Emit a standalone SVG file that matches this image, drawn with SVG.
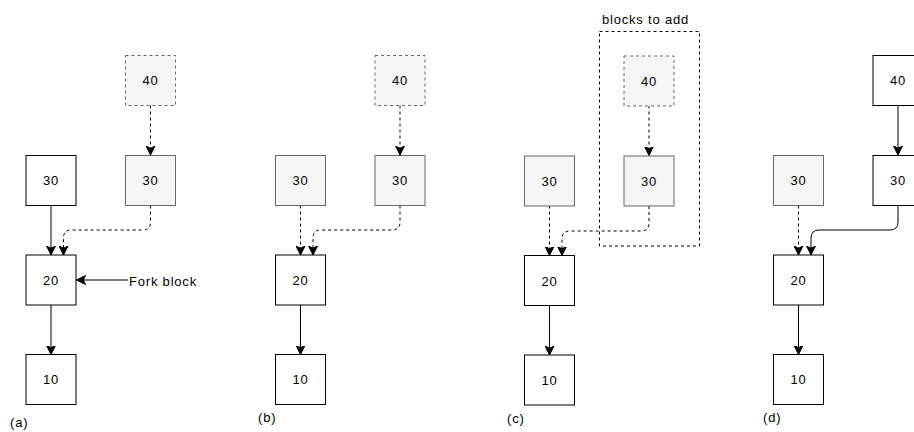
<svg xmlns="http://www.w3.org/2000/svg" width="914" height="432" viewBox="0 0 914 432">
<defs>
<style>
text{font-family:"Liberation Sans",Arial,Helvetica,sans-serif;font-size:13px;letter-spacing:0.8px;fill:#000}
.c{text-anchor:middle}
.blk{fill:#fff;stroke:#000;stroke-width:1}
.gry{fill:#f5f5f5;stroke:#666;stroke-width:1}
.gdash{fill:#f5f5f5;stroke:#666;stroke-width:1;stroke-dasharray:3 3}
.ln{fill:none;stroke:#000;stroke-width:1;marker-end:url(#arr)}
.dl{fill:none;stroke:#000;stroke-width:1;stroke-dasharray:3 3;marker-end:url(#arr)}
.box{fill:none;stroke:#000;stroke-width:1;stroke-dasharray:3 3}
</style>
<marker id="arr" markerUnits="userSpaceOnUse" viewBox="0 -5 10 10" refX="9" refY="0" markerWidth="10" markerHeight="10" orient="auto">
<path d="M0,-4.5 L9,0 L0,4.5 L2.2,0 Z" fill="#000" stroke="#000" stroke-width="1"/>
</marker>
</defs>
<rect width="914" height="432" fill="#fff"/>

<g id="connectors">
<!-- (a) -->
<path class="dl" d="M150.5,105.5 V155"/>
<path class="ln" d="M51,205.5 V255"/>
<path class="dl" d="M150.5,205.5 V222 Q150.5,230 142.5,230 H71.5 Q63.5,230 63.5,238 V255"/>
<path class="ln" d="M128,280 H76.5"/>
<path class="ln" d="M51,305 V354.5"/>
<!-- (b) -->
<path class="dl" d="M400,105.5 V155"/>
<path class="dl" d="M300.5,205.5 V255"/>
<path class="dl" d="M400,205.5 V222 Q400,230 392,230 H321 Q313,230 313,238 V255"/>
<path class="ln" d="M300.5,305 V354.5"/>
<!-- (c) -->
<path class="dl" d="M649,105.5 V155.5"/>
<path class="dl" d="M549.5,205.5 V255.5"/>
<path class="dl" d="M649,206 V223 Q649,231 641,231 H570 Q562,231 562,239 V255.5"/>
<path class="ln" d="M549.5,305.5 V355"/>
<!-- (d) -->
<path class="ln" d="M898,105.5 V155"/>
<path class="dl" d="M798.5,205.5 V255"/>
<path class="ln" d="M898,205.5 V222 Q898,230 890,230 H819 Q811,230 811,238 V255"/>
<path class="ln" d="M798.5,305 V354.5"/>
</g>

<!-- panel (a) -->
<g id="a-40"><rect class="gdash" x="125.5" y="55.5" width="50" height="50"/><text class="c" x="150.5" y="85">40</text></g>
<g id="a-30-left"><rect class="blk" x="26" y="155.5" width="50" height="50"/><text class="c" x="51" y="185">30</text></g>
<g id="a-30-right"><rect class="gry" x="125.5" y="155.5" width="50" height="50"/><text class="c" x="150.5" y="185">30</text></g>
<g id="a-20"><rect class="blk" x="26" y="255" width="50" height="50"/><text class="c" x="51" y="285">20</text></g>
<g id="a-10"><rect class="blk" x="26" y="354.5" width="50" height="50"/><text class="c" x="51" y="384">10</text></g>
<g id="a-fork"><text x="129" y="285.5">Fork block</text></g>
<g id="a-label"><text x="10" y="427">(a)</text></g>

<!-- panel (b) -->
<g id="b-40"><rect class="gdash" x="375" y="55.5" width="50" height="50"/><text class="c" x="400" y="85">40</text></g>
<g id="b-30-left"><rect class="gry" x="275.5" y="155.5" width="50" height="50"/><text class="c" x="300.5" y="185">30</text></g>
<g id="b-30-right"><rect class="gry" x="375" y="155.5" width="50" height="50"/><text class="c" x="400" y="185">30</text></g>
<g id="b-20"><rect class="blk" x="275.5" y="255" width="50" height="50"/><text class="c" x="300.5" y="285">20</text></g>
<g id="b-10"><rect class="blk" x="275.5" y="354.5" width="50" height="50"/><text class="c" x="300.5" y="384">10</text></g>
<g id="b-label"><text x="258" y="422">(b)</text></g>

<!-- panel (c) -->
<g id="c-group"><rect class="box" x="599.5" y="31.5" width="100" height="214.5"/><text x="602" y="23.5">blocks to add</text></g>
<g id="c-40"><rect class="gdash" x="624" y="56" width="50" height="50"/><text class="c" x="649" y="85.5">40</text></g>
<g id="c-30-left"><rect class="gry" x="524.5" y="156" width="50" height="50"/><text class="c" x="549.5" y="185.5">30</text></g>
<g id="c-30-right"><rect class="gry" x="624" y="156" width="50" height="50"/><text class="c" x="649" y="185.5">30</text></g>
<g id="c-20"><rect class="blk" x="524.5" y="255.5" width="50" height="50"/><text class="c" x="549.5" y="285.5">20</text></g>
<g id="c-10"><rect class="blk" x="524.5" y="355" width="50" height="50"/><text class="c" x="549.5" y="384.5">10</text></g>
<g id="c-label"><text x="507" y="423">(c)</text></g>

<!-- panel (d) -->
<g id="d-40"><rect class="blk" x="873" y="55.5" width="50" height="50"/><text class="c" x="898" y="85">40</text></g>
<g id="d-30-left"><rect class="gry" x="773.5" y="155.5" width="50" height="50"/><text class="c" x="798.5" y="185">30</text></g>
<g id="d-30-right"><rect class="blk" x="873" y="155.5" width="50" height="50"/><text class="c" x="898" y="185">30</text></g>
<g id="d-20"><rect class="blk" x="773.5" y="255" width="50" height="50"/><text class="c" x="798.5" y="285">20</text></g>
<g id="d-10"><rect class="blk" x="773.5" y="354.5" width="50" height="50"/><text class="c" x="798.5" y="384">10</text></g>
<g id="d-label"><text x="763" y="422">(d)</text></g>
</svg>
